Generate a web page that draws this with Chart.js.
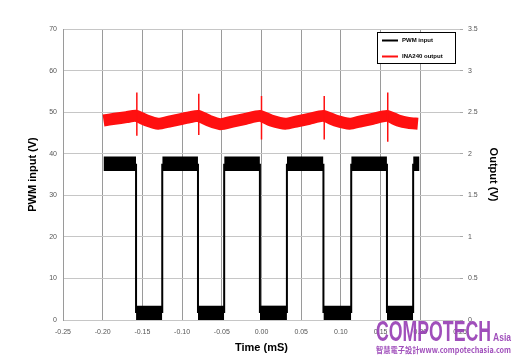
<!DOCTYPE html>
<html>
<head>
<meta charset="utf-8">
<title>PWM input / INA240 output</title>
<script src="https://cdn.jsdelivr.net/npm/chart.js@4.4.1/dist/chart.umd.min.js"></script>
<style>
  html, body { margin: 0; padding: 0; background: #fff; }
  #chart { display: block; }
</style>
</head>
<body>
<canvas id="chart" width="517" height="361"></canvas>
<script>
// PWM input, left axis (V): corners of the square wave
const pwmTime  = [-0.199, -0.158, -0.158, -0.125, -0.125, -0.080, -0.080, -0.047, -0.047, -0.002, -0.002, 0.032, 0.032, 0.078, 0.078, 0.113, 0.113, 0.158, 0.158, 0.191, 0.191, 0.199];
const pwmVolts = [37.6, 37.6, 1.7, 1.7, 37.6, 37.6, 1.7, 1.7, 37.6, 37.6, 1.7, 1.7, 37.6, 37.6, 1.7, 1.7, 37.6, 37.6, 1.7, 1.7, 37.6, 37.6];
const pwmNoise = 1.75; // half height of the noise band on the flat parts (V)

// INA240 output, right axis (V): middle of the noisy trace
const outTime  = [-0.199, -0.185, -0.170, -0.158, -0.145, -0.130, -0.115, -0.100, -0.090, -0.080, -0.067, -0.052, -0.035, -0.020, -0.002, 0.012, 0.030, 0.045, 0.060, 0.078, 0.093, 0.111, 0.125, 0.140, 0.158, 0.172, 0.185, 0.197];
const outVolts = [2.40, 2.42, 2.44, 2.455, 2.40, 2.36, 2.39, 2.42, 2.44, 2.455, 2.40, 2.355, 2.39, 2.42, 2.455, 2.40, 2.36, 2.39, 2.42, 2.455, 2.40, 2.36, 2.39, 2.42, 2.455, 2.40, 2.37, 2.36];

// switching spikes on the output trace
const spikeTime = [-0.157, -0.079, 0.000, 0.079, 0.159];
const spikeHigh = [2.735, 2.72, 2.695, 2.695, 2.735];
const spikeLow  = [2.215, 2.225, 2.17, 2.17, 2.145];

const xTicks      = [-0.25, -0.20, -0.15, -0.10, -0.05, 0.00, 0.05, 0.10, 0.15, 0.20, 0.25];
const xTickLabels = ["-0.25", "-0.20", "-0.15", "-0.10", "-0.05", "0.00", "0.05", "0.10", "0.15", "0.20", "0.25"];

const PWM_COLOR = "#000000";
const OUT_COLOR = "#ff1010";
const TICK_FONT = { family: "'Liberation Sans', Arial, sans-serif", size: 7 };
const TITLE_FONT = { family: "'Liberation Sans', Arial, sans-serif", size: 11, weight: "bold" };

// --- BUILD SERIES ---
// switching edges (vertical parts) and flat parts (noise band) of the square wave
const pwmEdges = [];
const bandTop = [];
const bandBottom = [];
for (let i = 0; i < pwmTime.length - 1; i++) {
  const t0 = pwmTime[i], t1 = pwmTime[i + 1];
  if (t0 === t1) {
    pwmEdges.push({ x: t0, y: pwmVolts[i] }, { x: t1, y: pwmVolts[i + 1] }, { x: t1, y: null });
  } else {
    const v = pwmVolts[i];
    bandTop.push({ x: t0, y: v + pwmNoise }, { x: t1, y: v + pwmNoise }, { x: t1, y: null });
    bandBottom.push({ x: t0, y: v - pwmNoise }, { x: t1, y: v - pwmNoise }, { x: t1, y: null });
  }
}

const outLine = outTime.map((t, i) => ({ x: t, y: outVolts[i] }));

const spikes = [];
spikeTime.forEach((t, i) => {
  spikes.push({ x: t, y: spikeHigh[i] }, { x: t, y: spikeLow[i] }, { x: t, y: null });
});

// --- PLUGINS ---
const boxLegend = {
  id: "boxLegend",
  afterDraw(chart) {
    const { ctx, chartArea } = chart;
    const items = chart.data.datasets.filter(d => d.inLegend);
    const w = 78, h = 31;
    const x = Math.round(chartArea.right - 5 - w), y = Math.round(chartArea.top + 3);
    ctx.save();
    ctx.fillStyle = "#fff";
    ctx.fillRect(x, y, w, h);
    ctx.strokeStyle = "#000";
    ctx.lineWidth = 1;
    ctx.strokeRect(x + 0.5, y + 0.5, w, h);
    ctx.font = "bold 6px 'Liberation Sans Narrow', 'Liberation Sans', sans-serif";
    ctx.textBaseline = "middle";
    items.forEach((d, i) => {
      const ly = y + 8.5 + i * 16;
      ctx.strokeStyle = d.borderColor;
      ctx.lineWidth = 2;
      ctx.beginPath();
      ctx.moveTo(x + 5, ly);
      ctx.lineTo(x + 21, ly);
      ctx.stroke();
      ctx.fillStyle = "#000";
      ctx.fillText(d.label, x + 25, ly);
    });
    ctx.restore();
  }
};

// squeeze a text run into a given width
function fitText(ctx, text, x, y, width) {
  const m = ctx.measureText(text).width;
  ctx.save();
  ctx.translate(x, y);
  ctx.scale(width / m, 1);
  ctx.fillText(text, 0, 0);
  ctx.restore();
}

const watermark = {
  id: "watermark",
  afterDraw(chart) {
    const { ctx } = chart;
    ctx.save();
    ctx.fillStyle = "rgba(150, 60, 180, 0.9)";
    ctx.textBaseline = "alphabetic";
    ctx.font = "bold 29px 'Liberation Sans Narrow', 'Liberation Sans', sans-serif";
    fitText(ctx, "COMPOTECH", 376, 341, 115);
    ctx.font = "bold 10px 'Liberation Sans Narrow', 'Liberation Sans', sans-serif";
    fitText(ctx, "Asia", 493, 341, 18);
    ctx.font = "bold 8px 'Noto Sans CJK TC', 'Liberation Sans Narrow', sans-serif";
    ctx.textBaseline = "middle";
    fitText(ctx, "智慧電子設計www.compotechasia.com", 376, 350, 135);
    ctx.restore();
  }
};

// --- CHART ---
new Chart(document.getElementById("chart"), {
  type: "line",
  data: {
    datasets: [
      {
        label: "PWM input",
        inLegend: true,
        data: pwmEdges,
        borderColor: PWM_COLOR,
        borderWidth: 2,
        pointRadius: 0,
        spanGaps: false,
        yAxisID: "y",
        order: 4
      },
      {
        label: "PWM band top",
        data: bandTop,
        borderColor: PWM_COLOR,
        borderWidth: 0,
        pointRadius: 0,
        spanGaps: false,
        yAxisID: "y",
        order: 3
      },
      {
        label: "PWM band bottom",
        data: bandBottom,
        borderColor: PWM_COLOR,
        backgroundColor: PWM_COLOR,
        borderWidth: 0,
        pointRadius: 0,
        spanGaps: false,
        fill: "-1",
        yAxisID: "y",
        order: 2
      },
      {
        label: "INA240 output",
        inLegend: true,
        data: outLine,
        borderColor: OUT_COLOR,
        borderWidth: 12,
        borderCapStyle: "butt",
        borderJoinStyle: "round",
        tension: 0.2,
        pointRadius: 0,
        yAxisID: "y1",
        order: 1
      },
      {
        label: "spikes",
        data: spikes,
        borderColor: OUT_COLOR,
        borderWidth: 1.5,
        pointRadius: 0,
        spanGaps: false,
        yAxisID: "y1",
        order: 0
      }
    ]
  },
  options: {
    responsive: false,
    animation: false,
    devicePixelRatio: 1,
    layout: { padding: { top: 29, left: 0, right: 0, bottom: 0 } },
    plugins: {
      legend: { display: false },
      tooltip: { enabled: false },
      filler: { propagate: false }
    },
    scales: {
      x: {
        type: "linear",
        min: -0.25,
        max: 0.25,
        afterBuildTicks: s => { s.ticks = xTicks.map(v => ({ value: v })); },
        afterFit: s => { s.height = 41; },
        ticks: {
          font: TICK_FONT,
          color: "#555",
          padding: 8,
          maxRotation: 0,
          autoSkip: false,
          callback: (v, i) => xTickLabels[i]
        },
        grid: {
          drawTicks: false,
          color: ctx => (ctx.index === xTicks.length - 1 ? "rgba(0,0,0,0)" : "#9a9a9a")
        },
        border: { display: false },
        title: {
          display: true,
          text: "Time (mS)",
          color: "#000",
          font: TITLE_FONT,
          padding: { top: 0, bottom: 6 }
        }
      },
      y: {
        position: "left",
        min: 0,
        max: 70,
        afterFit: s => { s.width = 63; },
        ticks: { stepSize: 10, font: TICK_FONT, color: "#555", padding: 6 },
        grid: { drawTicks: false, color: "#c6c6c6" },
        border: { display: true, color: "#9a9a9a" },
        title: {
          display: true,
          text: "PWM input (V)",
          color: "#000",
          font: TITLE_FONT,
          padding: { top: 26, bottom: 0 }
        }
      },
      y1: {
        position: "right",
        min: 0,
        max: 3.5,
        afterFit: s => { s.width = 57; },
        ticks: { stepSize: 0.5, font: TICK_FONT, color: "#555", padding: 5, callback: v => String(v) },
        grid: { drawOnChartArea: false, drawTicks: true, tickLength: 3, color: "#aaa" },
        border: { display: false },
        title: {
          display: true,
          text: "Output (V)",
          color: "#000",
          font: TITLE_FONT,
          padding: { top: 17, bottom: 0 }
        }
      }
    }
  },
  plugins: [boxLegend, watermark]
});
</script>
</body>
</html>
